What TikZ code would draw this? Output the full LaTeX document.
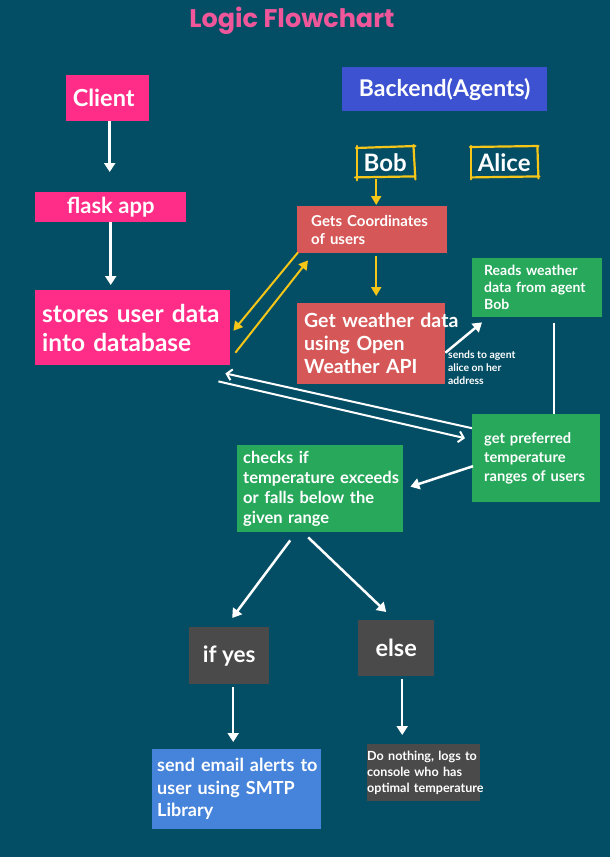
\documentclass[tikz,border=0pt]{standalone}
\usepackage{fontspec}
\setmainfont{Lato}
\newfontfamily\titlefont{Poppins}
\usetikzlibrary{arrows.meta,calc}
\definecolor{bg}{HTML}{044E65}
\definecolor{pinkc}{HTML}{FF2D87}
\definecolor{titlec}{HTML}{F0579A}
\definecolor{bluec}{HTML}{3D52D0}
\definecolor{redc}{HTML}{D65757}
\definecolor{greenc}{HTML}{27A85B}
\definecolor{grayc}{HTML}{4A4A4A}
\definecolor{sendc}{HTML}{4683DA}
\definecolor{yellowc}{HTML}{F5C518}
\tikzset{
  box/.style={draw=none, text=white, anchor=north west, inner ysep=0pt, align=left},
  cbox/.style={draw=none, text=white, anchor=north west, inner sep=0pt, align=center},
  tag/.style={draw=none, text=white, anchor=north west, inner sep=0pt,
    font=\bfseries\fontsize{24}{28}\selectfont},
  sketch/.style={draw=yellowc, line width=2.2pt, line cap=round},
  wa/.style={draw=white, line width=2.5pt, -{Triangle[width=11pt,length=9pt]}},
  wl/.style={draw=white, line width=2.5pt},
  wo/.style={draw=white, line width=2pt, -{Straight Barb[width=11pt,length=5pt,line width=2pt]}},
  ya/.style={draw=yellowc, line width=2pt, -{Triangle[width=10pt,length=9pt]}},
}
\begin{document}
\begin{tikzpicture}[x=1pt,y=-1pt]
\fill[bg] (0,0) rectangle (610,857);
\node[text=titlec, font=\titlefont\bfseries\fontsize{25.5}{30}\selectfont] (title) at (292,21) {Logic Flowchart};

% left column
\node[cbox, fill=pinkc, minimum width=83pt, minimum height=46pt, font=\bfseries\fontsize{23.5}{28}\selectfont] (client) at (66,75) {\hspace*{-8pt}Client};
\node[cbox, fill=pinkc, minimum width=151pt, minimum height=30pt, font=\bfseries\fontsize{22}{26}\selectfont] (flask) at (35,192) {flask app};
\node[box, fill=pinkc, inner xsep=7pt, text width=181pt, minimum height=75pt, font=\bfseries\fontsize{24.5}{29}\selectfont] (stores) at (35,290) {\mbox{stores user data}\\\mbox{into database}};

% backend
\node[cbox, fill=bluec, minimum width=205pt, minimum height=44pt, font=\bfseries\fontsize{23}{27}\selectfont] (backend) at (342,67) {Backend(Agents)};
\node[tag, minimum width=58pt, minimum height=30pt] (bob) at (356,147) {Bob};
\node[tag, minimum width=66pt, minimum height=30pt] (alice) at (471,147) {Alice};
\draw[sketch] ($(bob.north west)+(0,1)$) -- ($(bob.north east)+(1,-1)$);
\draw[sketch] ($(bob.north east)+(-1,-2)$) -- ($(bob.south east)+(1,2)$);
\draw[sketch] ($(bob.south west)+(-1,0)$) -- ($(bob.south east)+(0,-1)$);
\draw[sketch] ($(bob.north west)+(1,-1)$) -- ($(bob.south west)+(1,3)$);
\draw[sketch] ($(alice.north west)+(-1,0)$) -- ($(alice.north east)+(1,-1)$);
\draw[sketch] ($(alice.north east)+(0,-1)$) -- ($(alice.south east)+(1,1)$);
\draw[sketch] ($(alice.south west)+(1,0)$) -- ($(alice.south east)+(2,-1)$);
\draw[sketch] ($(alice.north west)+(0,-1)$) -- ($(alice.south west)+(0,2)$);

\node[box, fill=redc, inner xsep=14pt, text width=122pt, minimum height=47pt, font=\bfseries\fontsize{15}{18}\selectfont] (gets) at (297,206) {\mbox{Gets Coordinates}\\of users};
\node[box, fill=redc, inner xsep=7pt, text width=134pt, minimum height=81pt, font=\bfseries\fontsize{19.5}{23}\selectfont] (getw) at (297,303) {\mbox{Get weather data}\\\mbox{using Open}\\\mbox{Weather API}};
\node[box, fill=greenc, inner xsep=12pt, text width=106pt, minimum height=59pt, font=\bfseries\fontsize{14}{17}\selectfont] (reads) at (472,258) {\mbox{Reads weather}\\\mbox{data from agent}\\Bob};
\node[box, text=white, inner sep=0pt, font=\bfseries\fontsize{10.4}{13}\selectfont] (sends) at (448,351) {sends to agent\\alice on her\\address};
\node[box, fill=greenc, inner xsep=12pt, text width=104pt, minimum height=88pt, font=\bfseries\fontsize{14.7}{19}\selectfont] (getpref) at (472,414) {\mbox{get preferred}\\\mbox{temperature}\\\mbox{ranges of users}};
\node[box, fill=greenc, inner xsep=6pt, text width=154pt, minimum height=87pt, font=\bfseries\fontsize{16.5}{20}\selectfont] (checks) at (237,445) {checks if\\\mbox{temperature exceeds}\\\mbox{or falls below the}\\given range};

% bottom
\node[cbox, fill=grayc, minimum width=80pt, minimum height=57pt, font=\bfseries\fontsize{22.5}{26}\selectfont] (ifyes) at (189,627) {if yes};
\node[cbox, fill=grayc, minimum width=76pt, minimum height=56pt, font=\bfseries\fontsize{23.5}{27}\selectfont] (else) at (358,620) {else};
\node[box, fill=sendc, inner xsep=5pt, text width=159pt, minimum height=80pt, font=\bfseries\fontsize{18}{22.5}\selectfont] (send) at (152,749) {\mbox{send email alerts to}\\\mbox{user using SMTP}\\Library};
\node[box, fill=grayc, inner xsep=0pt, text width=113pt, minimum height=57pt, font=\bfseries\fontsize{12.6}{16}\selectfont] (none) at (367,744) {\mbox{Do nothing, logs to}\\\mbox{console who has}\\\mbox{optimal temperature}};

% connectors
\draw[wa, shorten >=20pt] ($(client.south)+(2,0)$) -- ($(client.south |- flask.north)+(2,0)$);
\draw[wa, shorten >=5pt] (flask.south) -- (flask.south |- stores.north);
\draw[ya, shorten <=2pt, shorten >=1pt] ($(bob.south)+(-9,0)$) -- ($(bob.south |- gets.north)+(-9,0)$);
\draw[ya, shorten <=3pt, shorten >=7pt] ($(gets.south)+(4,0)$) -- ($(gets.south |- getw.north)+(4,0)$);
\draw[ya] ($(gets.south west)+(1,-1)$) -- ($(stores.east)+(3,3)$);
\draw[ya] ($(stores.east)+(5,25)$) -- ($(gets.south west)+(11,7)$);
\draw[wa] ($(getw.east)+(0,9)$) -- ($(reads.south west)+(10,5)$);
\draw[wl] ($(reads.south)+(17,6)$) -- ($(getpref.north)+(18,0)$);
\draw[wo] ($(getpref.west)+(0,-30)$) -- ($(stores.south east)+(-5,8)$);
\draw[wo] ($(stores.south east)+(-12,16)$) -- ($(getpref.west)+(-7,-20)$);
\draw[wa] ($(getpref.west)+(1,8)$) -- ($(checks.east)+(7,-2)$);
\draw[wa] ($(checks.south)+(-30,8)$) -- ($(ifyes.north)+(3,-9)$);
\draw[wa] ($(checks.south)+(-12,5)$) -- ($(else.north)+(-10,-8)$);
\draw[wa, shorten <=3pt, shorten >=7pt] ($(ifyes.south)+(4,0)$) -- ($(ifyes.south |- send.north)+(4,0)$);
\draw[wa, shorten <=3pt, shorten >=9pt] ($(else.south)+(6,0)$) -- ($(else.south |- none.north)+(6,0)$);
\end{tikzpicture}
\end{document}
